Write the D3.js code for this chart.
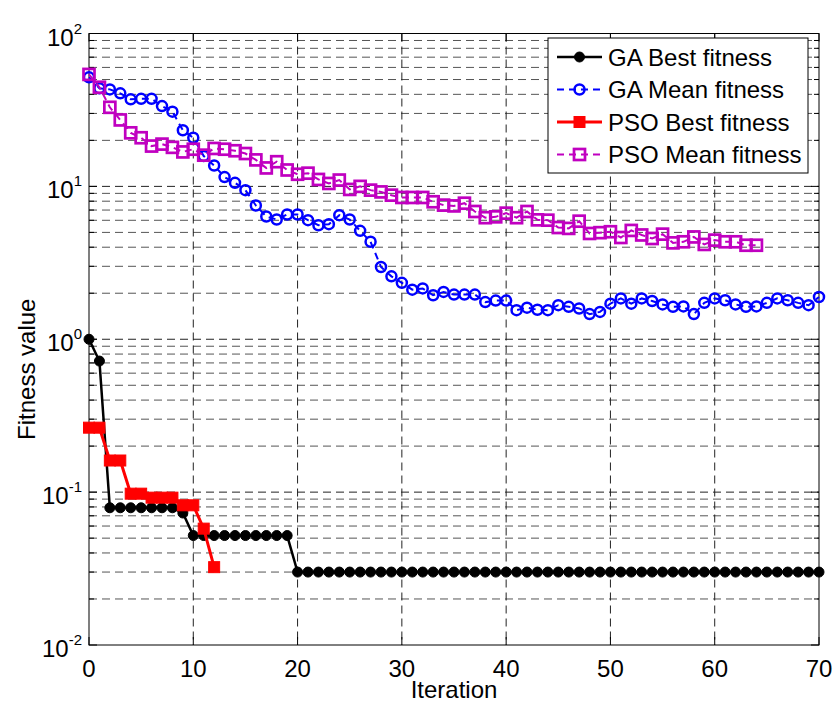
<!DOCTYPE html>
<html>
<head>
<meta charset="utf-8">
<script src="https://cdn.jsdelivr.net/npm/d3@7"></script>
<style>
  body { margin: 0; background: #fff; }
  text { font-family: "Liberation Sans", Arial, Helvetica, sans-serif; fill: #000; }
</style>
</head>
<body>
<div id="chart"></div>
<script>
// Series values (index = iteration)
const gaBest = [1.0, 0.72,
  0.079, 0.079, 0.079, 0.079, 0.079, 0.079, 0.079, 0.073,
  0.052, 0.052, 0.052, 0.052, 0.052, 0.052, 0.052, 0.052, 0.052, 0.052,
  0.03, 0.03, 0.03, 0.03, 0.03, 0.03, 0.03, 0.03, 0.03, 0.03,
  0.03, 0.03, 0.03, 0.03, 0.03, 0.03, 0.03, 0.03, 0.03, 0.03,
  0.03, 0.03, 0.03, 0.03, 0.03, 0.03, 0.03, 0.03, 0.03, 0.03,
  0.03, 0.03, 0.03, 0.03, 0.03, 0.03, 0.03, 0.03, 0.03, 0.03,
  0.03, 0.03, 0.03, 0.03, 0.03, 0.03, 0.03, 0.03, 0.03, 0.03, 0.03];

const gaMean = [51.7, 43.8, 43.1, 40.6, 37.1, 37.4, 37.4, 33.5, 30.8, 23.3,
  20.8, 15.8, 13.7, 11.5, 10.55, 9.45, 7.5, 6.35, 6.07, 6.55,
  6.55, 6.01, 5.57, 5.66, 6.48, 6.07, 5.12, 4.34, 2.97, 2.58,
  2.34, 2.11, 2.15, 1.94, 2.04, 1.96, 1.96, 1.96, 1.75, 1.79,
  1.79, 1.55, 1.61, 1.56, 1.55, 1.67, 1.63, 1.59, 1.46, 1.51,
  1.71, 1.85, 1.71, 1.85, 1.78, 1.69, 1.63, 1.64, 1.46, 1.73,
  1.85, 1.80, 1.69, 1.63, 1.64, 1.73, 1.85, 1.80, 1.73, 1.67, 1.89];

const psoBest = [0.264, 0.264, 0.161, 0.161, 0.0977, 0.0977, 0.092, 0.092, 0.092,
  0.082, 0.082, 0.0577, 0.0323];

const psoMean = [54, 44.5, 32.9, 27.2, 22.4, 20.8, 18.35, 18.9, 18.0, 16.8,
  17.5, 16.0, 17.7, 17.5, 17.1, 16.4, 14.9, 13.2, 14.5, 12.8,
  12.0, 12.2, 11.1, 10.45, 11.0, 9.55, 10.0, 9.45, 9.2, 8.76,
  8.46, 8.46, 8.46, 7.93, 7.54, 7.45, 7.76, 6.85, 6.24, 6.32,
  6.68, 6.24, 6.85, 6.04, 6.01, 5.38, 5.31, 5.92, 4.92, 4.98,
  5.05, 4.63, 5.15, 4.81, 4.56, 4.87, 4.27, 4.34, 4.67, 4.17,
  4.45, 4.34, 4.34, 4.12, 4.12];

const seriesNames = ["GA Best fitness", "GA Mean fitness", "PSO Best fitness", "PSO Mean fitness"];
const xTicks = [0, 10, 20, 30, 40, 50, 60, 70];
const yExponents = [-2, -1, 0, 1, 2];

// Layout
const W = 833, H = 703;
const margin = { top: 33.5, right: 14, bottom: 58, left: 89 };
const width = W - margin.left - margin.right;
const height = H - margin.top - margin.bottom;

const svg = d3.select("#chart").append("svg")
    .attr("width", W)
    .attr("height", H);

svg.append("rect").attr("width", W).attr("height", H).attr("fill", "#fff");

const g = svg.append("g").attr("transform", `translate(${margin.left},${margin.top})`);

const x = d3.scaleLinear().domain([0, 70]).range([0, width]);
const y = d3.scaleLog().domain([0.01, 100]).range([height, 0]);

// Grid: major + minor on log axis, major on x
const gridVals = [];
yExponents.slice(0, -1).forEach(e => {
    for (let m = 1; m <= 9; m++) gridVals.push({ v: m * Math.pow(10, e), major: m === 1 });
});

const grid = g.append("g").attr("class", "grid");
grid.selectAll(".hgrid")
    .data(gridVals.filter(d => d.v > 0.01))
    .enter().append("line")
    .attr("x1", 0).attr("x2", width)
    .attr("y1", d => y(d.v)).attr("y2", d => y(d.v))
    .attr("stroke", d => d.major ? "#222" : "#555")
    .attr("stroke-width", 1)
    .attr("stroke-dasharray", "8,5");

grid.selectAll(".vgrid")
    .data(xTicks.slice(1, -1))
    .enter().append("line")
    .attr("x1", d => x(d)).attr("x2", d => x(d))
    .attr("y1", 0).attr("y2", height)
    .attr("stroke", "#222")
    .attr("stroke-width", 1)
    .attr("stroke-dasharray", "8,5");

// Axes box and inside ticks
g.append("rect")
    .attr("width", width).attr("height", height)
    .attr("fill", "none").attr("stroke", "#000").attr("stroke-width", 1);

const allY = gridVals.concat([{ v: 100, major: true }]);
[0, width].forEach((xPos, i) => {
    const dir = i === 0 ? 1 : -1;
    g.selectAll(null).data(allY).enter().append("line")
        .attr("x1", xPos).attr("x2", d => xPos + dir * (d.major ? 8 : 5))
        .attr("y1", d => y(d.v)).attr("y2", d => y(d.v))
        .attr("stroke", "#000");
});
[0, height].forEach((yPos, i) => {
    const dir = i === 0 ? 1 : -1;
    g.selectAll(null).data(xTicks).enter().append("line")
        .attr("x1", d => x(d)).attr("x2", d => x(d))
        .attr("y1", yPos).attr("y2", yPos + dir * 8)
        .attr("stroke", "#000");
});

// Tick labels
g.selectAll(".xlab").data(xTicks).enter().append("text")
    .attr("x", d => x(d))
    .attr("y", height + 32)
    .attr("text-anchor", "middle")
    .attr("font-size", 24)
    .text(d => d);

const ylab = g.selectAll(".ylab").data(yExponents).enter().append("text")
    .attr("x", -7)
    .attr("y", d => y(Math.pow(10, d)) + 12)
    .attr("text-anchor", "end")
    .attr("font-size", 24);
ylab.append("tspan").text("10");
ylab.append("tspan").attr("dy", -12).attr("font-size", 15).text(d => d);

// Axis titles
svg.append("text")
    .attr("x", margin.left + width / 2)
    .attr("y", H - 5)
    .attr("text-anchor", "middle")
    .attr("font-size", 24)
    .text("Iteration");

svg.append("text")
    .attr("transform", `translate(35,${margin.top + height / 2 + 30}) rotate(-90)`)
    .attr("text-anchor", "middle")
    .attr("font-size", 24)
    .text("Fitness value");

// Series
const series = [
    { name: seriesNames[0], values: gaBest, color: "#000", dash: null, width: 2.5, marker: "circle", filled: true },
    { name: seriesNames[1], values: gaMean, color: "#0000ff", dash: "7,5", width: 2, marker: "circle", filled: false },
    { name: seriesNames[2], values: psoBest, color: "#ff0000", dash: null, width: 3, marker: "square", filled: true },
    { name: seriesNames[3], values: psoMean, color: "#c000c0", dash: "7,5", width: 2, marker: "square", filled: false }
];

const line = d3.line().x((d, i) => x(i)).y(d => y(d));

function drawMarker(sel, s) {
    if (s.marker === "circle") {
        sel.append("circle")
            .attr("r", 5)
            .attr("fill", s.filled ? s.color : "none")
            .attr("stroke", s.color)
            .attr("stroke-width", s.filled ? 1 : 2.5);
    } else {
        const sz = 11;
        sel.append("rect")
            .attr("x", -sz / 2).attr("y", -sz / 2)
            .attr("width", sz).attr("height", sz)
            .attr("fill", s.filled ? s.color : "none")
            .attr("stroke", s.color)
            .attr("stroke-width", s.filled ? 1 : 2.7);
    }
}

series.forEach(s => {
    const sg = g.append("g");
    sg.append("path")
        .datum(s.values)
        .attr("fill", "none")
        .attr("stroke", s.color)
        .attr("stroke-width", s.width)
        .attr("stroke-dasharray", s.dash)
        .attr("d", line);
    sg.selectAll(".pt").data(s.values).enter().append("g")
        .attr("transform", (d, i) => `translate(${x(i)},${y(d)})`)
        .each(function () { drawMarker(d3.select(this), s); });
});

// Legend
const lg = svg.append("g").attr("transform", "translate(548,38)");
lg.append("rect")
    .attr("width", 260).attr("height", 135)
    .attr("fill", "#fff").attr("stroke", "#000").attr("stroke-width", 1);
series.forEach((s, i) => {
    const ly = 19 + i * 32.5;
    lg.append("line")
        .attr("x1", 9).attr("x2", 54)
        .attr("y1", ly).attr("y2", ly)
        .attr("stroke", s.color)
        .attr("stroke-width", s.width)
        .attr("stroke-dasharray", s.dash);
    drawMarker(lg.append("g").attr("transform", `translate(31.5,${ly})`), s);
    lg.append("text")
        .attr("x", 60).attr("y", ly + 8.5)
        .attr("font-size", 24)
        .text(s.name);
});
</script>
</body>
</html>
